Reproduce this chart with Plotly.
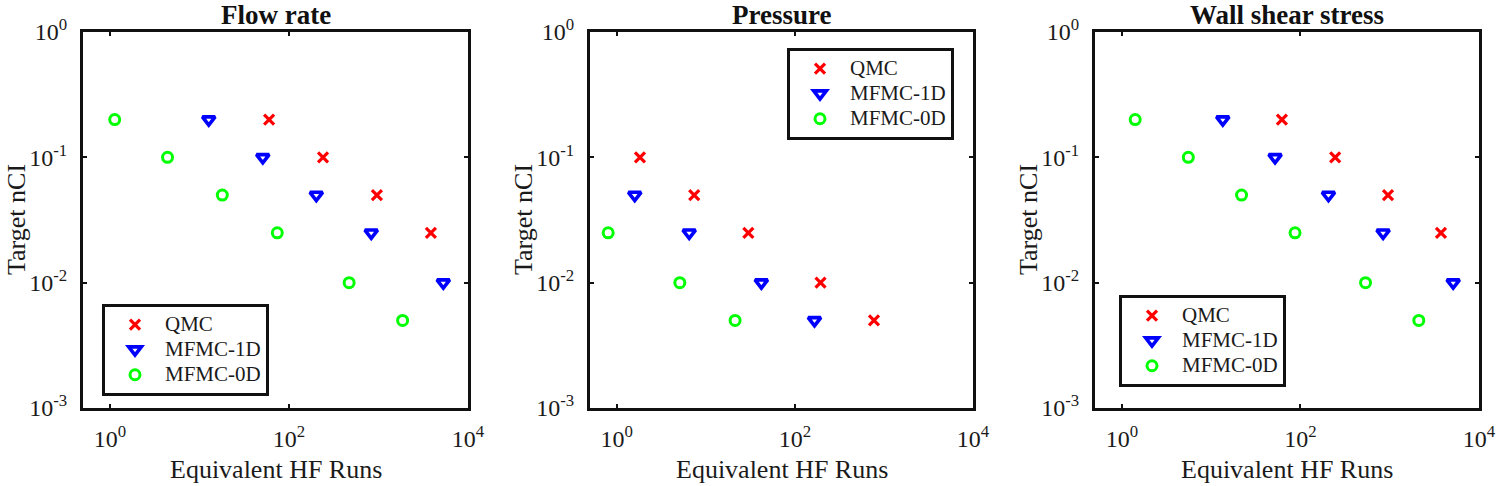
import plotly.graph_objects as go
import math

# ---- data ----
titles = ["Flow rate", "Pressure", "Wall shear stress"]
series_names = ["QMC", "MFMC-1D", "MFMC-0D"]

# Flow rate
flow_qmc_x = [60, 240, 960, 3850]
flow_qmc_y = [0.2, 0.1, 0.05, 0.025]
flow_1d_x = [12.7, 51, 202, 830, 5300]
flow_1d_y = [0.2, 0.1, 0.05, 0.025, 0.01]
flow_0d_x = [1.13, 4.4, 18, 74, 470, 1860]
flow_0d_y = [0.2, 0.1, 0.05, 0.025, 0.01, 0.005]

# Pressure
pres_qmc_x = [1.82, 7.4, 30, 194, 773]
pres_qmc_y = [0.1, 0.05, 0.025, 0.01, 0.005]
pres_1d_x = [1.59, 6.5, 42, 166]
pres_1d_y = [0.05, 0.025, 0.01, 0.005]
pres_0d_x = [0.8, 5.1, 21.3]
pres_0d_y = [0.025, 0.01, 0.005]

# Wall shear stress
wss_qmc_x = [62, 245, 957, 3750]
wss_qmc_y = [0.2, 0.1, 0.05, 0.025]
wss_1d_x = [13.5, 52, 206, 843, 5140]
wss_1d_y = [0.2, 0.1, 0.05, 0.025, 0.01]
wss_0d_x = [1.41, 5.55, 21.9, 87, 536, 2117]
wss_0d_y = [0.2, 0.1, 0.05, 0.025, 0.01, 0.005]

x_tickvals = [1, 100, 10000]
x_ticktext = ["10<sup>0</sup>", "10<sup>2</sup>", "10<sup>4</sup>"]
y_tickvals = [0.001, 0.01, 0.1, 1]
y_ticktext = ["10<sup>-3</sup>", "10<sup>-2</sup>", "10<sup>-1</sup>", "10<sup>0</sup>"]
x_title = "Equivalent HF Runs"
y_title = "Target nCI"

panels = [
    [(flow_qmc_x, flow_qmc_y), (flow_1d_x, flow_1d_y), (flow_0d_x, flow_0d_y)],
    [(pres_qmc_x, pres_qmc_y), (pres_1d_x, pres_1d_y), (pres_0d_x, pres_0d_y)],
    [(wss_qmc_x, wss_qmc_y), (wss_1d_x, wss_1d_y), (wss_0d_x, wss_0d_y)],
]

# ---- style ----
W, H = 1500, 486
FONT = "Liberation Serif, Times New Roman, serif"
TXT = "#1a1a1a"
colors = ["#ff0000", "#0000ff", "#00ff00"]
markers = [
    dict(symbol="x-thin-open", size=10, line=dict(width=3.2, color=colors[0])),
    dict(symbol="triangle-down-open", size=11, line=dict(width=3.6, color=colors[1])),
    dict(symbol="circle-open", size=10, line=dict(width=3, color=colors[2])),
]
x_domains_px = [(83, 468), (590, 973), (1095, 1479)]
y_domain_px = (32, 408)
legend_pos_px = [(102, 304), (787, 48), (1119, 295)]

fig = go.Figure()
for p, data in enumerate(panels):
    sfx = "" if p == 0 else str(p + 1)
    leg = "legend" if p == 0 else f"legend{p + 1}"
    for s, (xs, ys) in enumerate(data):
        fig.add_trace(go.Scatter(
            x=xs, y=ys, mode="markers",
            name='<span style="font-size:21px">' + series_names[s] + "</span>",
            marker=dict(color=colors[s], **markers[s]),
            xaxis="x" + sfx, yaxis="y" + sfx, legend=leg,
        ))

layout = dict(
    width=W, height=H,
    margin=dict(l=0, r=0, t=0, b=0, autoexpand=False),
    paper_bgcolor="white", plot_bgcolor="white",
    font=dict(family=FONT, color=TXT, size=21),
    annotations=[],
)
y0, y1 = y_domain_px
for p in range(3):
    sfx = "" if p == 0 else str(p + 1)
    xa, xb = x_domains_px[p]
    axis_common = dict(
        type="log", showgrid=False, zeroline=False,
        showline=True, linecolor="#111111", linewidth=3, mirror="ticks",
        ticks="inside", ticklen=4, tickwidth=2, tickcolor="#111111",
        tickfont=dict(family=FONT, size=24, color=TXT),
    )
    layout["xaxis" + sfx] = dict(
        axis_common,
        domain=[xa / W, xb / W],
        range=[math.log10(0.5), 4],
        tickvals=x_tickvals, ticktext=x_ticktext,
        anchor="y" + sfx,
        ticklabelstandoff=7,
    )
    layout["yaxis" + sfx] = dict(
        axis_common,
        domain=[1 - y1 / H, 1 - y0 / H],
        range=[-3, 0],
        tickvals=y_tickvals, ticktext=y_ticktext,
        anchor="x" + sfx,
        ticklabelstandoff=8,
    )
    lx, ly = legend_pos_px[p]
    layout["legend" if p == 0 else f"legend{p + 1}"] = dict(
        x=lx / W, y=1 - ly / H, xanchor="left", yanchor="top",
        xref="paper", yref="paper",
        bordercolor="#111111", borderwidth=3, bgcolor="white",
        font=dict(family=FONT, size=17, color=TXT),
        itemwidth=50, tracegroupgap=0,
    )
    # panel title
    layout["annotations"].append(dict(
        text="<b>" + titles[p] + "</b>", x=(xa + xb) / 2 / W, y=1 - 15 / H,
        xref="paper", yref="paper", xanchor="center", yanchor="middle",
        showarrow=False, font=dict(family=FONT, size=27, color="#111111"),
    ))
    # x axis title
    layout["annotations"].append(dict(
        text=x_title, x=(xa + xb) / 2 / W, y=1 - 469 / H,
        xref="paper", yref="paper", xanchor="center", yanchor="middle",
        showarrow=False, font=dict(family=FONT, size=26, color=TXT),
    ))
    # y axis title
    layout["annotations"].append(dict(
        text=y_title, x=(xa - 66) / W, y=1 - (y0 + y1) / 2 / H,
        xref="paper", yref="paper", xanchor="center", yanchor="middle",
        textangle=-90,
        showarrow=False, font=dict(family=FONT, size=26, color=TXT),
    ))

fig.update_layout(**layout)
fig.update_layout(showlegend=True)
fig.write_html(
    "out.html",
    config={"displayModeBar": False},
    post_script="document.body.style.margin='0';document.body.style.padding='0';",
)
